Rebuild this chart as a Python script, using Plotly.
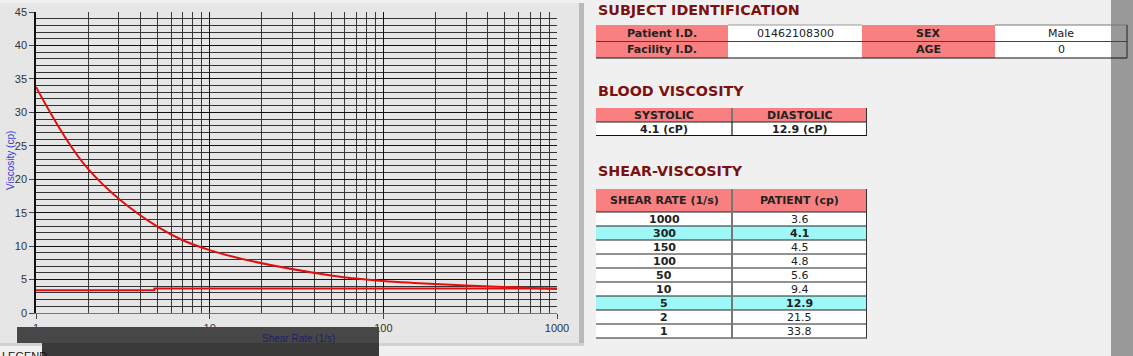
import plotly.graph_objects as go

# ---------------- data ----------------
shear_rates = [1000, 300, 150, 100, 50, 10, 5, 2, 1]
patient_cp = [3.6, 4.1, 4.5, 4.8, 5.6, 9.4, 12.9, 21.5, 33.8]
highlight_rates = [300, 5]

ref_x = [1, 4.8, 1000]
ref_y = [3.4, 3.65, 3.65]

x_ticks = [1, 10, 100, 1000]
x_minor = [m * d for d in (1, 10, 100) for m in range(2, 10)]
y_ticks = list(range(0, 46, 5))
y_minor = list(range(0, 46))

subject_labels = ["Patient I.D.", "Facility I.D."]
subject_values = ["01462108300", ""]
subject_labels2 = ["SEX", "AGE"]
subject_values2 = ["Male", "0"]

bv_headers = ["SYSTOLIC", "DIASTOLIC"]
bv_values = ["4.1 (cP)", "12.9 (cP)"]

sv_headers = ["SHEAR RATE (1/s)", "PATIENT (cp)"]

# ---------------- helpers ----------------
W, H = 1133, 356
def px(x): return x / W
def py(y): return 1 - y / H

PINK = "#f88080"
CYAN = "#9ff8f8"
TITLE_RED = "#7b1111"
FONT = "DejaVu Sans"

shapes = []
annos = []

def rect(x0, y0, x1, y1, fill, layer="above"):
    shapes.append(dict(type="rect", xref="paper", yref="paper",
                       x0=px(x0), x1=px(x1), y0=py(y1), y1=py(y0),
                       fillcolor=fill, line=dict(width=0), layer=layer))

def hline(x0, x1, y, color="#222", w=1):
    shapes.append(dict(type="line", xref="paper", yref="paper",
                       x0=px(x0), x1=px(x1), y0=py(y), y1=py(y),
                       line=dict(color=color, width=w), layer="above"))

def vline(x, y0, y1, color="#222", w=1):
    shapes.append(dict(type="line", xref="paper", yref="paper",
                       x0=px(x), x1=px(x), y0=py(y0), y1=py(y1),
                       line=dict(color=color, width=w), layer="above"))

def text(x, y, s, size=11, color="#222", bold=False, xanchor="center",
         family=FONT, angle=0):
    annos.append(dict(xref="paper", yref="paper", x=px(x), y=py(y),
                      text=("<b>%s</b>" % s) if bold else s, showarrow=False,
                      xanchor=xanchor, yanchor="middle", textangle=angle,
                      font=dict(size=size, color=color, family=family)))

# ---------------- chart panel ----------------
rect(0, 3, 582, 344, "#e6e6e6", layer="below")
rect(579, 3, 584, 346, "#b9b9b9", layer="below")
rect(0, 343, 584, 346, "#d2d2d2", layer="below")

fig = go.Figure()
fig.add_trace(go.Scatter(x=ref_x, y=ref_y, mode="lines",
                         line=dict(color="#e01010", width=2, shape="hv"),
                         hoverinfo="skip"))
pts = sorted(zip(shear_rates, patient_cp))
fig.add_trace(go.Scatter(x=[p[0] for p in pts], y=[p[1] for p in pts],
                         mode="lines",
                         line=dict(color="#e01010", width=2, shape="spline", smoothing=1.0),
                         hoverinfo="skip"))

# dark bar at the bottom
rect(17, 327, 379, 343, "#474747")
rect(42, 343, 379, 356, "#3a3a3a")
text(0, 355.5, "LEGEND", size=11, color="#111", xanchor="left", family="Liberation Sans")

# axis titles
text(298, 338, "Shear Rate (1/s)", size=10, color="#1e1e66", family="Liberation Sans")
text(10, 161, "Viscosity (cp)", size=10, color="#3a3ad0", family="Liberation Sans", angle=-90)

# ---------------- right side ----------------
# SUBJECT IDENTIFICATION
text(596, 10, "SUBJECT IDENTIFICATION", size=14.3, color=TITLE_RED, bold=True, xanchor="left")
row_y = [25, 41.5, 58]
for i in range(2):
    y0, y1 = row_y[i], row_y[i + 1]
    rect(596, y0, 728, y1, PINK)
    rect(728, y0, 862, y1, "#ffffff")
    rect(862, y0, 995, y1, PINK)
    rect(995, y0, 1127, y1, "#ffffff")
    yc = (y0 + y1) / 2
    text(662, yc, subject_labels[i], bold=True)
    text(795, yc, subject_values[i])
    text(928, yc, subject_labels2[i], bold=True)
    text(1061, yc, subject_values2[i])

# right gray bar (over the cell fills, under the table rules)
rect(1111, 0, 1133, 356, "#999999")

hline(728, 862, 25, "#999")
hline(995, 1127, 25, "#777")
hline(596, 1127, 41.5, "#444")
hline(596, 1127, 58, "#111")
vline(1127, 25, 58, "#222")

# BLOOD VISCOSITY
text(596, 91, "BLOOD VISCOSITY", size=14.3, color=TITLE_RED, bold=True, xanchor="left")
rect(596, 108, 867, 122, PINK)
rect(596, 122, 867, 135.5, "#ffffff")
for j in range(2):
    xc = 664 if j == 0 else 799.5
    text(xc, 115, bv_headers[j], bold=True)
    text(xc, 129, bv_values[j], bold=True)
vline(732, 108, 135.5, "#777", 2)
hline(596, 867, 122, "#222")
hline(596, 867, 135.5, "#111")
vline(866.5, 108, 135.5, "#333")

# SHEAR-VISCOSITY
text(596, 171, "SHEAR-VISCOSITY", size=14.3, color=TITLE_RED, bold=True, xanchor="left")
rect(596, 189, 867, 212, PINK)
text(664, 200.5, sv_headers[0], bold=True)
text(799.5, 200.5, sv_headers[1], bold=True)
rh = 14
for i, (sr, cp) in enumerate(zip(shear_rates, patient_cp)):
    y0 = 212 + i * rh
    hl = sr in highlight_rates
    rect(596, y0, 867, y0 + rh, CYAN if hl else "#ffffff")
    text(664, y0 + rh / 2, str(sr), bold=True)
    text(799.5, y0 + rh / 2, str(cp), bold=hl)
for i in range(10):
    hline(596, 867, 212 + i * rh, "#222")
vline(732, 189, 338, "#777", 2)
vline(866.5, 189, 338, "#333")

fig.update_layout(
    width=W, height=H, autosize=False,
    margin=dict(l=0, r=0, t=0, b=0, pad=0),
    paper_bgcolor="#f0f0f0", plot_bgcolor="#e6e6e6",
    showlegend=False,
    shapes=shapes, annotations=annos,
    xaxis=dict(type="log", range=[0, 3], domain=[px(36), px(557)],
               tickmode="array", tickvals=x_ticks, ticktext=[str(v) for v in x_ticks],
               ticks="outside", ticklen=5, tickcolor="#444",
               showgrid=True, gridcolor="#111", gridwidth=1,
               minor=dict(tickmode="array", tickvals=x_minor, showgrid=True,
                          gridcolor="#3a3a3a", gridwidth=1, ticks=""),
               showline=True, linecolor="#777", linewidth=1,
               tickfont=dict(family="Liberation Sans", size=11, color="#333"),
               zeroline=False, fixedrange=True, automargin=False),
    yaxis=dict(range=[0, 45], domain=[py(313), py(12)],
               tickmode="array", tickvals=y_ticks,
               ticks="outside", ticklen=5, tickcolor="#444",
               showgrid=True, gridcolor="#111", gridwidth=1,
               minor=dict(tickmode="array", tickvals=y_minor, showgrid=True,
                          gridcolor="#333333", gridwidth=1, ticks=""),
               showline=True, linecolor="#111", linewidth=1.5,
               tickfont=dict(family="Liberation Sans", size=11, color="#333"),
               zeroline=False, fixedrange=True, automargin=False),
)

fig.write_html("out.html", config={"displayModeBar": False},
               post_script="document.body.style.margin='0';document.body.style.overflow='hidden';")
